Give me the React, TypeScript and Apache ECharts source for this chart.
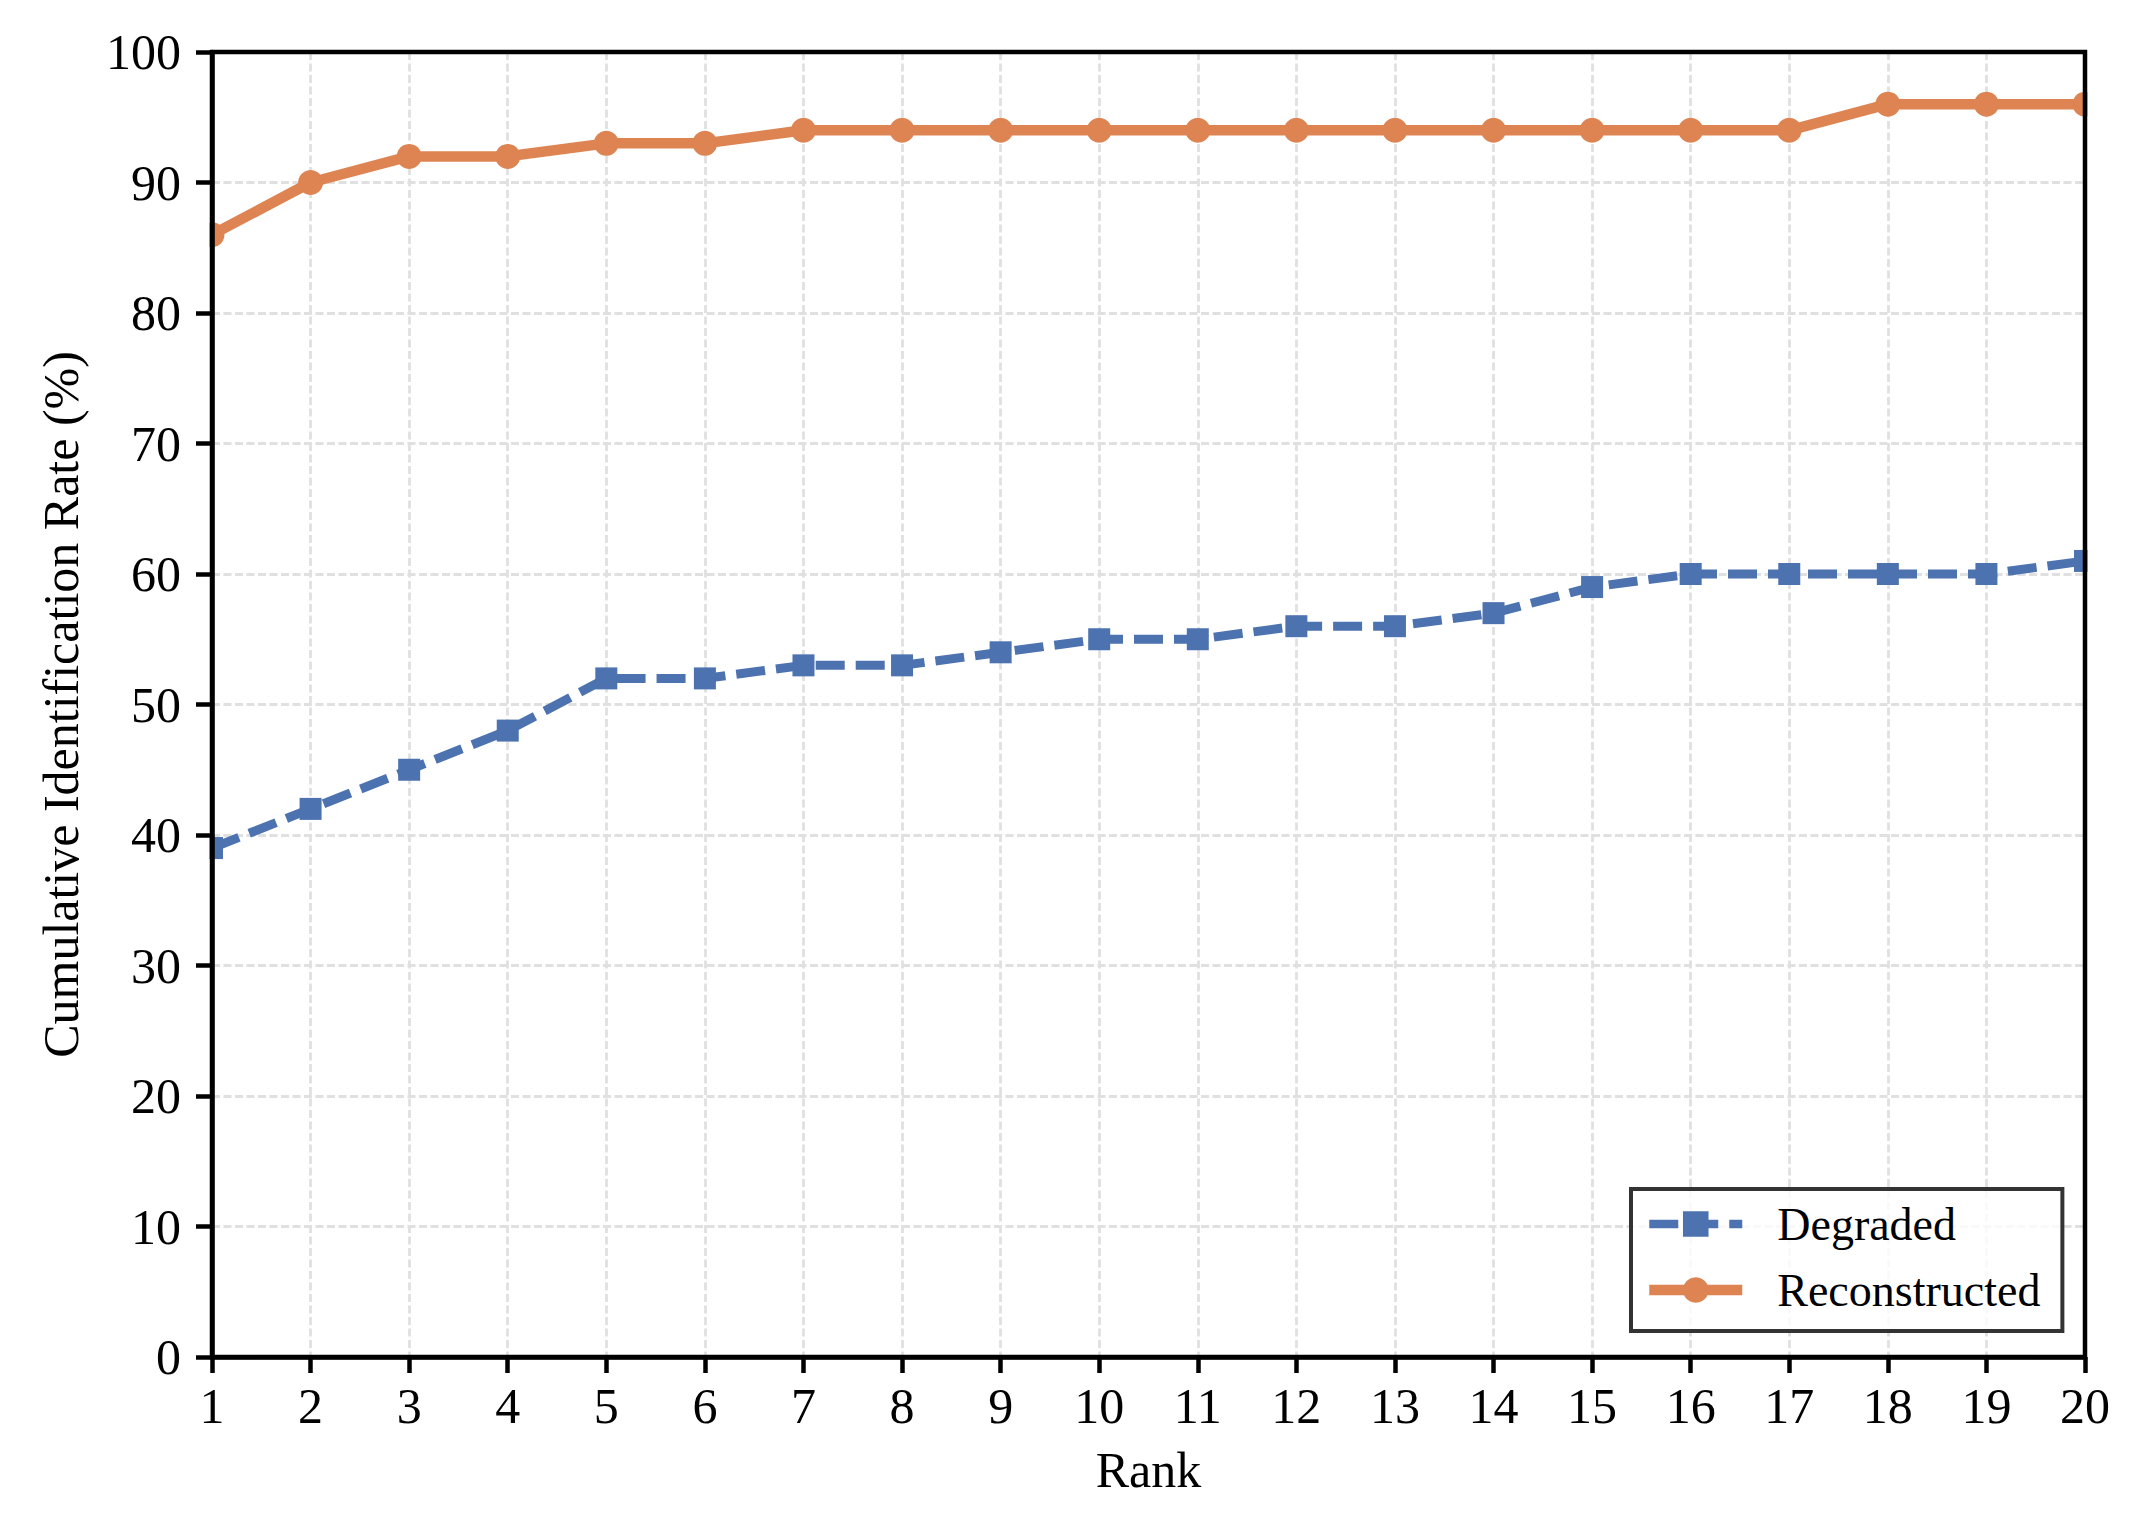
import React, { useEffect, useRef } from "react";
import * as echarts from "echarts";

const ranks = [1, 2, 3, 4, 5, 6, 7, 8, 9, 10, 11, 12, 13, 14, 15, 16, 17, 18, 19, 20];
const degraded = [39, 42, 45, 48, 52, 52, 53, 53, 54, 55, 55, 56, 56, 57, 59, 60, 60, 60, 60, 61];
const reconstructed = [86, 90, 92, 92, 93, 93, 94, 94, 94, 94, 94, 94, 94, 94, 94, 94, 94, 96, 96, 96];
const seriesNames = ["Degraded", "Reconstructed"];
const xTitle = "Rank";
const yTitle = "Cumulative Identification Rate (%)";

const W = 2135;
const H = 1520;
const GL = 212;
const GT = 52;
const GR = 2085;
const GB = 1357;
const FONT = "'Liberation Serif', 'Times New Roman', serif";

export default function App() {
  const ref = useRef<HTMLDivElement>(null);
  useEffect(() => {
    document.body.style.margin = "0";
    if (!ref.current) return;
    const chart = echarts.init(ref.current, null, { renderer: "svg" });
    const blue = "#4c72b0";
    const orange = "#dd8452";
    const blueDash = [29, 11];
    const gridLine = { show: true, lineStyle: { color: "#e0e0e0", width: 2.8, type: [8, 3.5] } };
    const axisLineStyle = { show: true, lineStyle: { color: "#000", width: 4.5 } };
    const tickStyle = { show: true, inside: false, length: 16, lineStyle: { color: "#000", width: 4.5 } };
    const xBase = { type: "value", min: 1, max: 20, interval: 1 };
    const yBase = { type: "value", min: 0, max: 100, interval: 10 };
    const option: any = {
      animation: false,
      backgroundColor: "#ffffff",
      textStyle: { fontFamily: FONT },
      grid: {
        left: GL,
        top: GT,
        width: GR - GL,
        height: GB - GT,
        show: true,
        borderColor: "#000",
        borderWidth: 4.5,
        backgroundColor: "transparent",
        containLabel: false,
        outerBoundsMode: "none",
        z: 10,
      },
      legend: {
        orient: "vertical",
        left: 1631,
        top: 1189,
        padding: [12, 22, 18, 13],
        itemWidth: 93,
        itemHeight: 32,
        itemGap: 20,
        borderColor: "#333333",
        borderWidth: 4,
        borderRadius: 0,
        backgroundColor: "rgba(255,255,255,0.8)",
        textStyle: {
          fontFamily: FONT,
          fontSize: 46,
          color: "#000",
          padding: [0, 0, 0, 30],
        },
        data: [
          {
            name: seriesNames[0],
            itemStyle: { color: blue, borderWidth: 0 },
            lineStyle: { color: blue, width: 8.5, type: blueDash },
          },
          {
            name: seriesNames[1],
            itemStyle: { color: orange, borderWidth: 0 },
            lineStyle: { color: orange, width: 10.5, type: "solid" },
          },
        ],
        z: 20,
      },
      xAxis: [
        {
          ...xBase,
          z: 0,
          axisLine: { show: false },
          axisTick: { show: false },
          axisLabel: { show: false },
          splitLine: gridLine,
        },
        {
          ...xBase,
          position: "bottom",
          z: 10,
          name: xTitle,
          nameLocation: "middle",
          nameGap: 88,
          nameTextStyle: { fontFamily: FONT, fontSize: 50, color: "#000" },
          axisLine: axisLineStyle,
          axisTick: tickStyle,
          axisLabel: { fontFamily: FONT, fontSize: 50, color: "#000", margin: 24 },
          splitLine: { show: false },
        },
      ],
      yAxis: [
        {
          ...yBase,
          z: 0,
          axisLine: { show: false },
          axisTick: { show: false },
          axisLabel: { show: false },
          splitLine: gridLine,
        },
        {
          ...yBase,
          position: "left",
          z: 10,
          name: yTitle,
          nameLocation: "middle",
          nameGap: 126,
          nameTextStyle: { fontFamily: FONT, fontSize: 50, color: "#000" },
          axisLine: axisLineStyle,
          axisTick: tickStyle,
          axisLabel: { fontFamily: FONT, fontSize: 50, color: "#000", margin: 31 },
          splitLine: { show: false },
        },
      ],
      graphic: [
        { type: "rect", z: 5, silent: true, shape: { x: GL - 14, y: GT - 20, width: 11.5, height: GB - GT + 40 }, style: { fill: "#fff" } },
        { type: "rect", z: 5, silent: true, shape: { x: GR + 2.5, y: GT - 20, width: 14, height: GB - GT + 40 }, style: { fill: "#fff" } },
      ],
      series: [
        {
          name: seriesNames[0],
          type: "line",
          xAxisIndex: 0,
          yAxisIndex: 0,
          z: 2,
          data: ranks.map((r, i) => [r, degraded[i]]),
          symbol: "rect",
          symbolSize: 22,
          showSymbol: true,
          clip: false,
          lineStyle: { color: blue, width: 9, type: blueDash },
          itemStyle: { color: blue, borderWidth: 0 },
        },
        {
          name: seriesNames[1],
          type: "line",
          xAxisIndex: 0,
          yAxisIndex: 0,
          z: 3,
          data: ranks.map((r, i) => [r, reconstructed[i]]),
          symbol: "circle",
          symbolSize: 25,
          showSymbol: true,
          clip: false,
          lineStyle: { color: orange, width: 10.5, type: "solid" },
          itemStyle: { color: orange, borderWidth: 0 },
        },
      ],
    };
    chart.setOption(option);
    return () => chart.dispose();
  }, []);
  return <div ref={ref} style={{ width: W, height: H }} />;
}
